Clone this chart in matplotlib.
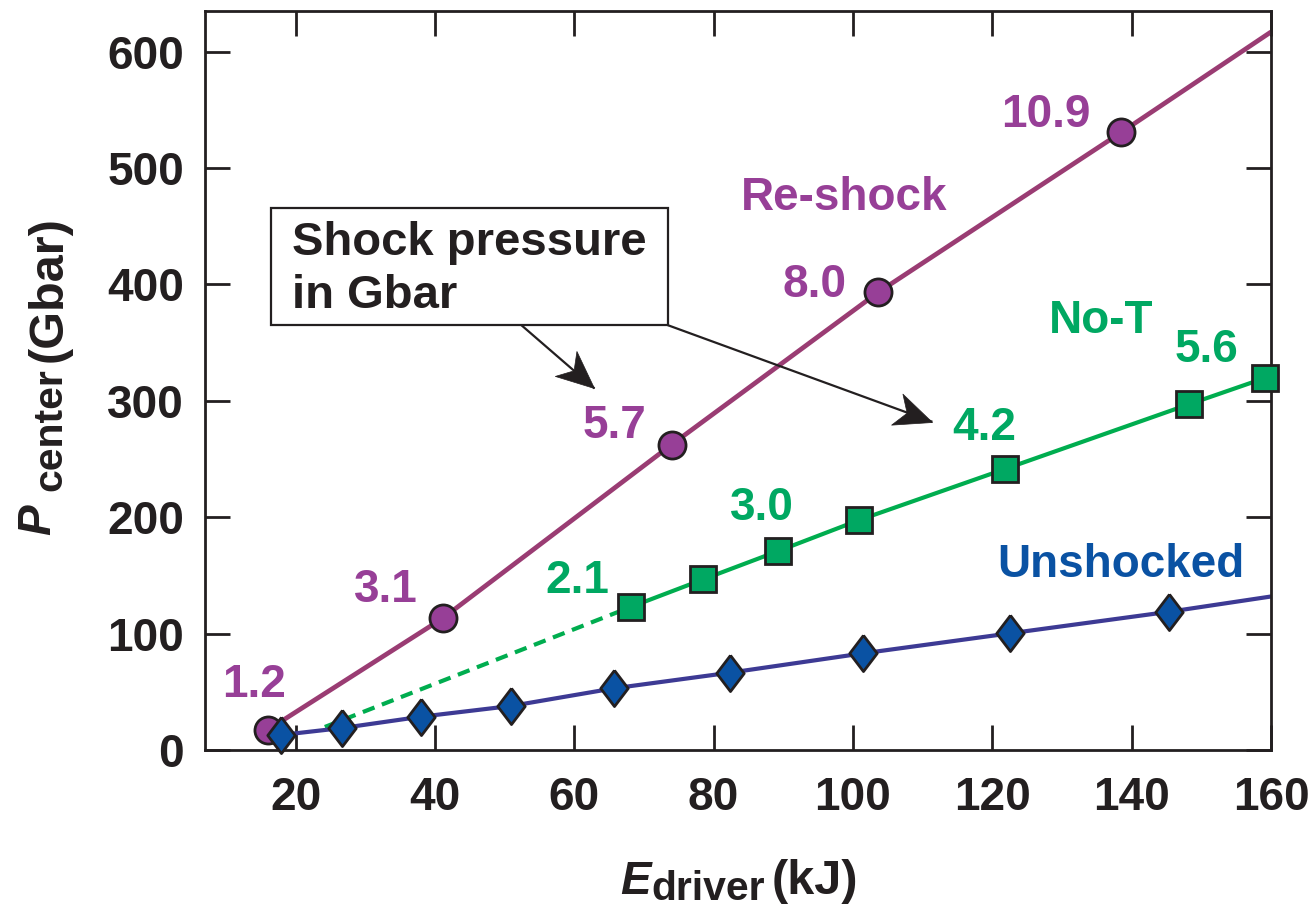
import numpy as np
import matplotlib
matplotlib.use("Agg")
import matplotlib.pyplot as plt
from matplotlib import font_manager
from matplotlib.patches import Rectangle
from matplotlib.markers import MarkerStyle
from matplotlib.path import Path
from matplotlib.transforms import Affine2D

# ---------------------------------------------------------------- data
# Driver energy (kJ) vs. central pressure (Gbar)
reshock_e = [16.0, 41.1, 74.0, 103.6, 138.5]
reshock_p = [17.2, 113.1, 262.5, 393.2, 530.7]
reshock_shock = ["1.2", "3.1", "5.7", "8.0", "10.9"]
reshock_tail_e = 160.0
reshock_tail_p = 617.0

not_e = [68.2, 78.5, 89.3, 100.9, 121.8, 148.2, 159.2]
not_p = [123.1, 146.6, 171.0, 197.6, 241.4, 297.0, 319.8]
not_shock = ["2.1", "3.0", "4.2", "5.6"]
not_extrap_e = [24.2, 68.2]
not_extrap_p = [19.8, 123.1]

unsh_e = [17.9, 26.7, 38.0, 50.9, 65.7, 82.3, 101.5, 122.6, 145.4]
unsh_p = [12.9, 18.9, 28.6, 37.8, 53.0, 66.4, 83.1, 100.3, 118.8]
unsh_tail_e = 160.0
unsh_tail_p = 131.9

x_ticks = [20, 40, 60, 80, 100, 120, 140, 160]
y_ticks = [0, 100, 200, 300, 400, 500, 600]

# ---------------------------------------------------------------- style
INK = "#231f20"
PURPLE = "#973f97"
PURPLE_LINE = "#9a3c73"
GREEN = "#00a862"
GREEN_LINE = "#00ad4f"
BLUE = "#0a52a3"
BLUE_LINE = "#3d3a94"

plt.rcParams["font.family"] = ["Liberation Sans", "DejaVu Sans"]
plt.rcParams["font.weight"] = "bold"


def has_font(name):
    try:
        font_manager.findfont(font_manager.FontProperties(family=name, weight="bold"),
                              fallback_to_default=False)
        return True
    except Exception:
        return False


if has_font("Liberation Sans Narrow"):
    SUB_FAMILY, SUB_SIZE = "Liberation Sans Narrow", 33
else:
    SUB_FAMILY, SUB_SIZE = "Liberation Sans", 29.5

W, H = 1314, 909
fig = plt.figure(figsize=(W / 100, H / 100), dpi=100)
ax = fig.add_axes([205 / W, 1 - 750 / H, (1271 - 205) / W, (750 - 11) / H])

ax.set_xlim(7, 160)
ax.set_ylim(0, 635)
ax.set_xticks(x_ticks)
ax.set_yticks(y_ticks)
ax.tick_params(which="both", direction="in", length=18, width=2, color=INK,
               top=True, right=True, labelsize=33, labelcolor=INK)
ax.tick_params(axis="x", pad=19)
ax.tick_params(axis="y", pad=15)
for s in ax.spines.values():
    s.set_linewidth(2)
    s.set_color(INK)

# ---------------------------------------------------------------- series
ax.plot(list(reshock_e) + [reshock_tail_e], list(reshock_p) + [reshock_tail_p],
        color=PURPLE_LINE, lw=3.4, zorder=2, solid_capstyle="butt")
ax.plot(reshock_e, reshock_p, ls="none", marker="o", ms=19.5, mfc=PURPLE,
        mec=INK, mew=2, zorder=4, clip_on=False)

ax.plot(not_extrap_e, not_extrap_p, color=GREEN_LINE, lw=3.0, ls=(0, (3.0, 1.9)),
        zorder=2)
ax.plot(not_e, not_p, color=GREEN_LINE, lw=3.0, zorder=2)
ax.plot(not_e, not_p, ls="none", marker="s", ms=18.5, mfc=GREEN,
        mec=INK, mew=2, zorder=4, clip_on=False)

diamond = [(0, 1), (0.76, 0), (0, -1), (-0.76, 0), (0, 1)]
ax.plot(list(unsh_e) + [unsh_tail_e], list(unsh_p) + [unsh_tail_p],
        color=BLUE_LINE, lw=3.0, zorder=2)
ax.plot(unsh_e, unsh_p, ls="none", marker=diamond, ms=26, mfc=BLUE,
        mec=INK, mew=2, zorder=5, clip_on=False)

# ---------------------------------------------------------------- value labels
lab_kw = dict(fontsize=33, fontweight="bold", ha="center", va="baseline")
reshock_lab_pos = [(14.1, 45.5), (32.9, 127.1), (65.8, 267.8), (94.5, 389.2), (127.7, 535.2)]
for txt, (x, y) in zip(reshock_shock, reshock_lab_pos):
    ax.text(x, y, txt, color=PURPLE, **lab_kw)
not_lab_pos = [(60.5, 134.9), (87.0, 197.6), (118.8, 266.3), (150.7, 333.6)]
for txt, (x, y) in zip(not_shock, not_lab_pos):
    ax.text(x, y, txt, color=GREEN, **lab_kw)

ax.text(98.8, 463.9, "Re-shock", color=PURPLE, **lab_kw)
ax.text(135.6, 358.2, "No-T", color=GREEN, **lab_kw)
ax.text(138.4, 148.9, "Unshocked", color=BLUE, **lab_kw)

# ---------------------------------------------------------------- callout box
ax.add_patch(Rectangle((16.5, 365.1), 73.4 - 16.5, 465.4 - 365.1, facecolor="white",
                       edgecolor=INK, lw=1.6, zorder=6))
ax.text(19.5, 425.3, "Shock pressure", color=INK, fontsize=34, fontweight="bold",
        ha="left", va="baseline", zorder=7)
ax.text(19.5, 379.7, "in Gbar", color=INK, fontsize=34, fontweight="bold",
        ha="left", va="baseline", zorder=7)

# barbed arrowhead pointing along +x with its tip at the marker origin
head_path = Path([(0, 0), (-1.0, 0.44), (-0.72, 0), (-1.0, -0.44), (0, 0)],
                 [Path.MOVETO, Path.LINETO, Path.LINETO, Path.LINETO, Path.CLOSEPOLY])
for (x0, y0), (x1, y1) in [((52.4, 365.1), (62.9, 310.7)), ((73.4, 365.1), (111.4, 282.0))]:
    ax.plot([x0, x1], [y0, y1], color=INK, lw=1.6, zorder=6, solid_capstyle="butt")
    d0 = ax.transData.transform((x0, y0))
    d1 = ax.transData.transform((x1, y1))
    ang = np.degrees(np.arctan2(d1[1] - d0[1], d1[0] - d0[0]))
    head = MarkerStyle(head_path, transform=Affine2D().rotate_deg(ang))
    ax.plot([x1], [y1], ls="none", marker=head, ms=54, mfc=INK, mec=INK, mew=0.5,
            zorder=6.5)


# ---------------------------------------------------------------- axis titles
def fxy(x, y):
    return x / W, 1 - y / H


t_kw = dict(color=INK, fontweight="bold", va="baseline", ha="left", rotation_mode="anchor")
fig.text(*fxy(620, 894), "E", fontsize=33, fontstyle="italic", **t_kw)
fig.text(*fxy(651, 900), "driver", fontsize=SUB_SIZE, family=SUB_FAMILY, **t_kw)
fig.text(*fxy(772, 894), "(kJ)", fontsize=35, **t_kw)

fig.text(*fxy(50, 535), "P", fontsize=33, fontstyle="italic", rotation=90, **t_kw)
fig.text(*fxy(61, 491), "center", fontsize=SUB_SIZE, family=SUB_FAMILY, rotation=90, **t_kw)
fig.text(*fxy(62, 362), "(Gbar)", fontsize=35, rotation=90, **t_kw)

fig.savefig("out.png", dpi=100, facecolor="white")
